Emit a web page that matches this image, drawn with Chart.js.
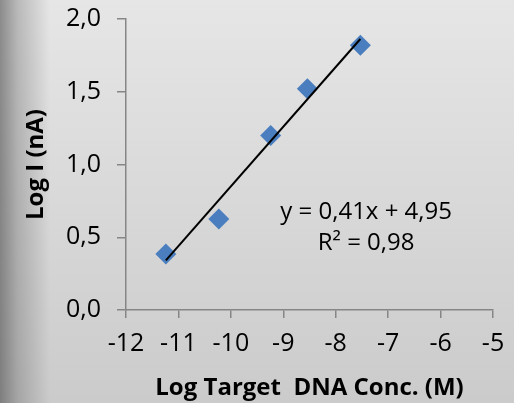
<!DOCTYPE html>
<html>
<head>
<meta charset="utf-8">
<script src="https://cdn.jsdelivr.net/npm/chart.js@4/dist/chart.umd.min.js"></script>
<style>
  html, body { margin: 0; padding: 0; background: #d9d9d9; }
  #wrap { width: 514px; height: 403px; }
</style>
</head>
<body>
<div id="wrap"><canvas id="c" width="514" height="403"></canvas></div>
<script>
// Calibration data: log of target DNA concentration vs. log of peak current
const logConc = [-11.24, -10.23, -9.24, -8.54, -7.53];
const logCurrent = [0.385, 0.625, 1.2, 1.52, 1.82];

// Linear fit reported on the plot
const fitSlope = 0.41;
const fitIntercept = 4.95;
const fitR2 = 0.98;

// Axis ranges and tick steps
const xRange = [-12, -5];
const yRange = [0, 2];
const xStep = 1;
const yStep = 0.5;

// Text
const xTitle = 'Log Target  DNA Conc. (M)';
const yTitle = 'Log I (nA)';
const eqLabelPos = { x: -7.42, y1: 0.675, y2: 0.46 };

const fmt = (v, d) => v.toFixed(d).replace('.', ',');
const eqLine1 = 'y = ' + fmt(fitSlope, 2) + 'x + ' + fmt(fitIntercept, 2);
const eqLine2 = 'R\u00B2 = ' + fmt(fitR2, 2);

const points = logConc.map((x, i) => ({ x, y: logCurrent[i] }));
const xMinData = Math.min(...logConc);
const xMaxData = Math.max(...logConc);
const fitPoints = [xMinData, xMaxData].map(x => ({ x, y: fitSlope * x + fitIntercept }));

const FONT = "'Open Sans', sans-serif";
const AXIS_GRAY = '#868686';

// Soft gray panel with a shadow along the left edge
const panelBackground = {
  id: 'panelBackground',
  beforeDraw(chart) {
    const { ctx, width, height } = chart;
    ctx.save();
    const v = ctx.createLinearGradient(0, 0, 0, height);
    v.addColorStop(0, '#e6e6e6');
    v.addColorStop(1, '#cbcbcb');
    ctx.fillStyle = v;
    ctx.fillRect(0, 0, width, height);
    const h = ctx.createLinearGradient(0, 0, 50, 0);
    h.addColorStop(0, 'rgba(50,50,50,0.5)');
    h.addColorStop(0.35, 'rgba(50,50,50,0.25)');
    h.addColorStop(1, 'rgba(50,50,50,0)');
    ctx.fillStyle = h;
    ctx.fillRect(0, 0, 50, height);
    ctx.restore();
  }
};

// Trendline equation text
const equationLabel = {
  id: 'equationLabel',
  afterDatasetsDraw(chart) {
    const { ctx, scales } = chart;
    const x = scales.x.getPixelForValue(eqLabelPos.x);
    ctx.save();
    ctx.font = '24px ' + FONT;
    ctx.fillStyle = '#000';
    ctx.textAlign = 'center';
    ctx.textBaseline = 'middle';
    ctx.fillText(eqLine1, x, scales.y.getPixelForValue(eqLabelPos.y1));
    ctx.fillText(eqLine2, x, scales.y.getPixelForValue(eqLabelPos.y2));
    ctx.restore();
  }
};

new Chart(document.getElementById('c'), {
  type: 'scatter',
  data: {
    datasets: [
      {
        label: 'Linear fit',
        data: fitPoints,
        showLine: true,
        borderColor: '#000',
        borderWidth: 2,
        pointRadius: 0,
        order: 0
      },
      {
        label: 'Log I',
        data: points,
        pointStyle: 'rectRot',
        pointRadius: 10.5,
        pointBackgroundColor: '#4a7ebf',
        pointBorderColor: '#4a7ebf',
        pointBorderWidth: 0,
        order: 1
      }
    ]
  },
  options: {
    responsive: false,
    animation: false,
    devicePixelRatio: 1,
    layout: { padding: { top: 19, right: 21, left: 0, bottom: 0 } },
    plugins: {
      legend: { display: false },
      tooltip: { enabled: false }
    },
    scales: {
      x: {
        type: 'linear',
        min: xRange[0],
        max: xRange[1],
        afterFit(s) { s.height = 93; s.paddingLeft = 0; s.paddingRight = 0; },
        ticks: {
          stepSize: xStep,
          color: '#000',
          padding: 11,
          font: { family: FONT, size: 25 },
          maxRotation: 0,
          callback: v => String(v)
        },
        grid: { display: true, drawOnChartArea: false, drawTicks: true, tickLength: 8, color: AXIS_GRAY, lineWidth: 1.5 },
        border: { display: true, color: AXIS_GRAY, width: 1.5 },
        title: {
          display: true,
          text: xTitle,
          color: '#000',
          font: { family: FONT, size: 24, weight: 'bold' },
          padding: { top: 0, bottom: 0 }
        }
      },
      y: {
        type: 'linear',
        min: yRange[0],
        max: yRange[1],
        afterFit(s) { s.width = 126; s.paddingTop = 0; s.paddingBottom = 0; },
        ticks: {
          stepSize: yStep,
          color: '#000',
          padding: 16,
          font: { family: FONT, size: 25 },
          callback: v => fmt(v, 1)
        },
        grid: { display: true, drawOnChartArea: false, drawTicks: true, tickLength: 9, color: AXIS_GRAY, lineWidth: 1.5 },
        border: { display: true, color: AXIS_GRAY, width: 1.5 },
        title: {
          display: true,
          text: yTitle,
          color: '#000',
          font: { family: FONT, size: 24, weight: 'bold' },
          padding: { top: 22, bottom: 0 }
        }
      }
    }
  },
  plugins: [panelBackground, equationLabel]
});
</script>
</body>
</html>
